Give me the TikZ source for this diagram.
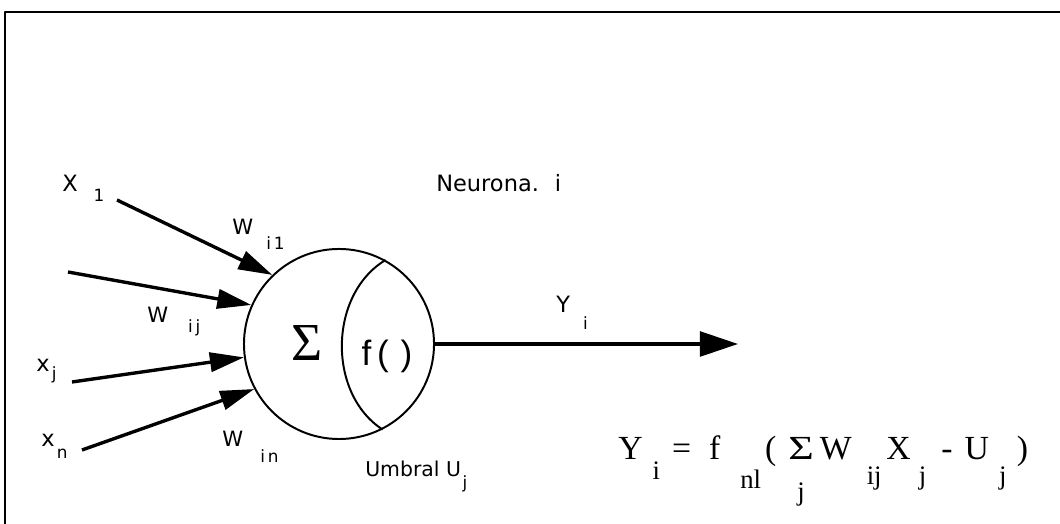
\documentclass[tikz,border=0pt]{standalone}
\usepackage{fontspec}
\usepackage{graphicx}
\setmainfont{DejaVu Sans}
\newfontfamily\formfont{Liberation Serif}
\newfontfamily\funfont{Liberation Sans}
\usetikzlibrary{arrows.meta}
\newcommand{\lowidx}[4][12]{\hspace{#2}\raisebox{-#3}{\fontsize{#1}{#1}\selectfont #4}}
\begin{document}
\begin{tikzpicture}[x=0.025cm,y=0.025cm,line join=round,
    inarr/.style={line width=2.4pt,-{Triangle[length=0.85cm,width=0.48cm]}},
    lbl/.style={anchor=base west,inner sep=0pt,font=\fontsize{16}{18}\selectfont},
    wlbl/.style={lbl,font=\fontsize{15}{17}\selectfont}]
    \def\myneurx{339}\def\myneury{180}\def\myneurd{4.75cm}
    \useasboundingbox (0,0) rectangle (1060,524);
    \draw[line width=2pt] (5,0)--(5,512)--(1060,512);
    \node[circle,draw,line width=1.4pt,minimum size=\myneurd,inner sep=0pt] (nneur) at (\myneurx,\myneury) {};
    \draw[line width=1.4pt] (nneur.61) to[bend right=58] (nneur.-63);
    \node (nsum) at (307,181) {\formfont\fontsize{38}{40}\selectfont Σ};
    \node (nfun) at (387,168) {\funfont\fontsize{25}{27}\selectfont f\,(\,\,)};
    \coordinate (xa) at (117,324);\coordinate (xb) at (68,252);
    \coordinate (xc) at (72,142);\coordinate (xd) at (82,74);
    \coordinate (yout) at (738,180);
    \draw[inarr] (xa)--(nneur.134);
    \draw[inarr] (xb)--(nneur.156);
    \draw[inarr] (xc)--(nneur.188);
    \draw[inarr] (xd)--(nneur.208);
    \draw[line width=2.2pt,-{Triangle[length=0.95cm,width=0.62cm]}] (nneur.east)--(yout);
    \node[lbl] (lxa) at (62,332) {X\lowidx{0.4cm}{0.25cm}{1}};
    \node[wlbl] (lwa) at (232,289) {W\lowidx{0.33cm}{0.375cm}{i\,1}};
    \node[wlbl] (lwb) at (147,201) {W\lowidx{0.5cm}{0.25cm}{i\,j}};
    \node[lbl] (lxc) at (36,152) {x\lowidx{0.06cm}{0.2cm}{j}};
    \node[lbl] (lxd) at (41,77) {x\lowidx{0.06cm}{0.28cm}{n}};
    \node[wlbl] (lwd) at (222,77) {W\lowidx{0.43cm}{0.4cm}{i\,n}};
    \node[lbl] (lyo) at (556,211) {Y\lowidx{0.33cm}{0.42cm}{i}};
    \node[lbl] (lneur) at (436,332) {Neurona.\hspace{0.4cm}i};
    \node[lbl,font=\fontsize{14.5}{16}\selectfont] (lumb) at (365,47) {Umbral U\lowidx{0.04cm}{0.28cm}{j}};
    \node[lbl,font=\formfont\fontsize{24}{26}\selectfont] (lform) at (618,64) {Y\lowidx[19]{0.25cm}{0.5cm}{i}\hspace{0.3cm}=\hspace{0.45cm}f\lowidx[19]{0.5cm}{0.72cm}{nl}\hspace{0.1cm}(\hspace{0.3cm}\ooalign{\hfil\scalebox{1.3}[1]{Σ}\hfil\cr\hfil\raisebox{-1cm}{\fontsize{19}{19}\selectfont j}\hfil\cr}\hspace{0.15cm}W\lowidx[19]{0.375cm}{0.6cm}{ij}\hspace{0.12cm}X\lowidx[19]{0.2cm}{0.6cm}{j}\hspace{0.38cm}-\hspace{0.3cm}U\lowidx[19]{0.25cm}{0.6cm}{j}\hspace{0.26cm})};
\end{tikzpicture}
\end{document}
